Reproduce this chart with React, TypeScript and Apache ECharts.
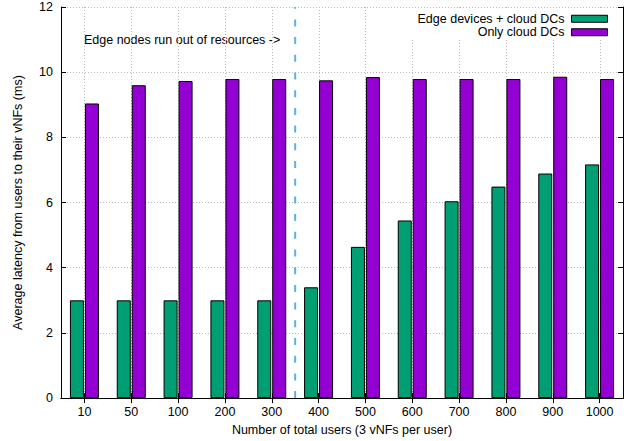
import React, { useEffect, useRef } from "react";
import * as echarts from "echarts";

const categories = ["10", "50", "100", "200", "300", "400", "500", "600", "700", "800", "900", "1000"];
const edgeCloud = [3.0, 3.0, 3.0, 3.0, 3.0, 3.4, 4.64, 5.45, 6.04, 6.49, 6.89, 7.17];
const onlyCloud = [9.04, 9.6, 9.73, 9.79, 9.79, 9.75, 9.85, 9.79, 9.79, 9.79, 9.86, 9.79];
const yTicks = [0, 2, 4, 6, 8, 10, 12];
const boundaryIndex = 5; // boundary between "300" and "400"
const seriesNames = ["Edge devices + cloud DCs", "Only cloud DCs"];
const annotation = "Edge nodes run out of resources ->";

const FONT = "Liberation Sans, Arial, Helvetica, sans-serif";
const FS = 12.5;

export default function App() {
  const ref = useRef<HTMLDivElement>(null);
  useEffect(() => {
    if (!ref.current) return;
    const chart = echarts.init(ref.current, undefined, { renderer: "svg" });
    const yMin = yTicks[0];
    const yMax = yTicks[yTicks.length - 1];
    const yInterval = yTicks[1] - yTicks[0];
    const option: any = {
      animation: false,
      textStyle: { fontFamily: FONT, color: "#000" },
      grid: { left: 61, right: 9, top: 7, bottom: 42, containLabel: false },
      legend: {
        data: seriesNames,
        orient: "vertical",
        align: "right",
        right: 17,
        top: 8,
        padding: [4, 7, 0, 15],
        backgroundColor: "#fff",
        itemWidth: 36,
        itemHeight: 7,
        itemGap: 0,
        icon: "rect",
        textStyle: { fontFamily: FONT, fontSize: FS, color: "#000", lineHeight: 13.5, padding: [0, 2, 0, 0] },
        itemStyle: { borderColor: "#000", borderWidth: 1 },
      },
      xAxis: [
        {
          type: "category",
          data: categories,
          position: "bottom",
          boundaryGap: true,
          axisLine: { show: true, lineStyle: { color: "#000", width: 1 } },
          axisTick: { show: true, inside: true, alignWithLabel: true, length: 5, lineStyle: { color: "#000" } },
          axisLabel: { color: "#000", fontSize: FS, fontFamily: FONT, margin: 7 },
          splitLine: { show: false },
          name: "Number of total users (3 vNFs per user)",
          nameLocation: "middle",
          nameGap: 24,
          nameTextStyle: { color: "#000", fontSize: FS, fontFamily: FONT },
          z: 5,
        },
        {
          type: "category",
          data: categories,
          position: "top",
          boundaryGap: true,
          axisLine: { show: true, lineStyle: { color: "#000", width: 1 } },
          axisTick: { show: true, inside: true, alignWithLabel: true, length: 5, lineStyle: { color: "#000" } },
          axisLabel: { show: false },
          splitLine: { show: false },
        },
        {
          type: "value",
          min: 0,
          max: categories.length,
          show: false,
          position: "bottom",
          splitLine: { show: false },
        },
      ],
      yAxis: [
        {
          type: "value",
          min: yMin,
          max: yMax,
          interval: yInterval,
          axisLine: { show: true, lineStyle: { color: "#000", width: 1 } },
          axisTick: { show: true, inside: true, length: 5, lineStyle: { color: "#000" } },
          axisLabel: { color: "#000", fontSize: FS, fontFamily: FONT, margin: 8 },
          splitLine: { show: true, lineStyle: { color: "#b8b8b8", type: [1, 2], width: 1 } },
          name: "Average latency from users to their vNFs (ms)",
          nameLocation: "middle",
          nameGap: 37,
          nameTextStyle: { color: "#000", fontSize: FS, fontFamily: FONT },
        },
        {
          type: "value",
          min: yMin,
          max: yMax,
          interval: yInterval,
          position: "right",
          axisLine: { show: true, lineStyle: { color: "#000", width: 1 } },
          axisTick: { show: true, inside: true, length: 5, lineStyle: { color: "#000" } },
          axisLabel: { show: false },
          splitLine: { show: false },
        },
      ],
      series: [
        {
          name: "vgrid",
          type: "custom",
          xAxisIndex: 0,
          yAxisIndex: 0,
          silent: true,
          z: 2,
          data: categories.map((c) => [c, yMax]),
          encode: { x: 0, y: 1 },
          renderItem: (params: any, api: any) => {
            const cs = params.coordSys;
            const p = api.coord([api.value(0), yMin]);
            const x = Math.round(p[0]) + 0.5;
            return {
              type: "line",
              shape: { x1: x, y1: cs.y, x2: x, y2: cs.y + cs.height },
              style: { stroke: "#b8b8b8", lineWidth: 1, lineDash: [1, 2] },
            };
          },
        },
        {
          name: seriesNames[0],
          type: "bar",
          data: edgeCloud,
          barWidth: 14,
          barGap: "7%",
          itemStyle: { color: "#009e73", borderColor: "#000", borderWidth: 1 },
          z: 6,
        },
        {
          name: seriesNames[1],
          type: "bar",
          data: onlyCloud,
          barWidth: 14,
          barGap: "7%",
          itemStyle: { color: "#9400d3", borderColor: "#000", borderWidth: 1 },
          z: 6,
        },
        {
          name: "boundary",
          type: "line",
          xAxisIndex: 2,
          yAxisIndex: 0,
          data: [
            [boundaryIndex, yMin],
            [boundaryIndex, yMax],
          ],
          symbol: "none",
          lineStyle: { color: "#56b4e9", width: 2, type: [7, 10.7], dashOffset: 0 },
          z: 7,
          silent: true,
        },
      ],
      graphic: [
        {
          type: "text",
          left: 84,
          top: 33,
          style: { text: annotation, fill: "#000", font: `${FS}px ${FONT}` },
        },
      ],
    };
    chart.setOption(option);
    return () => chart.dispose();
  }, []);
  return (
    <div
      ref={ref}
      style={{ position: "fixed", left: 0, top: 0, width: 632, height: 441, background: "#fff" }}
    />
  );
}
